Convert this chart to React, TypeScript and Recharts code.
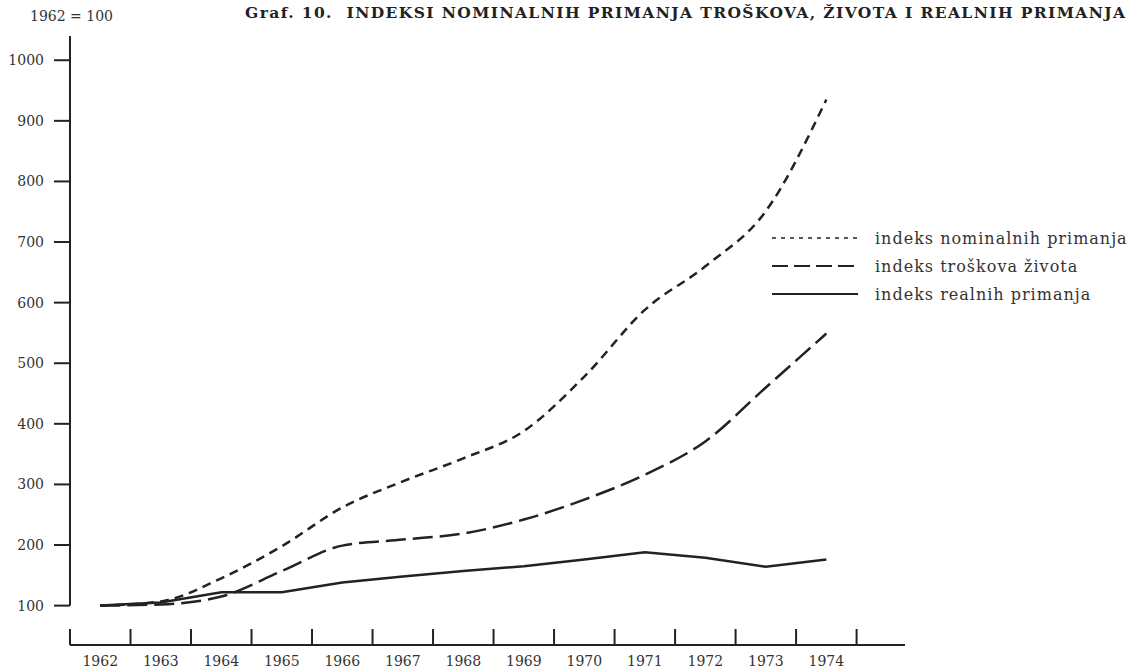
import { LineChart, Line, XAxis, YAxis, ReferenceLine, Legend } from 'recharts'

// index values, 1962 = 100
const years = [1962, 1963, 1964, 1965, 1966, 1967, 1968, 1969, 1970, 1971, 1972, 1973, 1974]
const nominalIncome = [100, 107, 145, 198, 262, 305, 343, 388, 478, 588, 660, 751, 935]
const costOfLiving = [100, 102, 115, 157, 199, 209, 219, 242, 275, 316, 371, 460, 549]
const realIncome = [100, 105, 122, 122, 138, 148, 157, 165, 176, 188, 179, 164, 176]

const yTicks = [100, 200, 300, 400, 500, 600, 700, 800, 900, 1000]
// tick marks sit between the years, labels sit on the years
const yearEdges = [...years.map((y) => y - 0.5), years[years.length - 1] + 0.5]
const xTicks = [...yearEdges, ...years].sort((a, b) => a - b)

const series = [
  { key: 'nominal', name: 'indeks nominalnih primanja', dash: '9 6', legendDash: '4 5', type: 'monotone' },
  { key: 'cost', name: 'indeks troškova života', dash: '20 7', legendDash: '16 6', type: 'monotone' },
  { key: 'real', name: 'indeks realnih primanja', dash: undefined, legendDash: undefined, type: 'linear' },
] as const

const data = years.map((year, i) => ({
  year,
  nominal: nominalIncome[i],
  cost: costOfLiving[i],
  real: realIncome[i],
}))

const ink = '#222'
const font = '"DejaVu Serif", "Liberation Serif", serif'

function XTick(props: any) {
  const { x, y, payload } = props
  if (Number.isInteger(payload.value)) {
    return (
      <text x={x} y={y + 21} textAnchor="middle" fontSize={14} fill="#333" fontFamily={font}>
        {payload.value}
      </text>
    )
  }
  return <line x1={x} x2={x} y1={y} y2={y - 16} stroke={ink} strokeWidth={2} />
}

function LegendBox() {
  return (
    <div style={{ fontFamily: font, fontSize: 16, color: '#333', letterSpacing: 1, whiteSpace: 'nowrap' }}>
      {series.map((s) => (
        <div key={s.key} style={{ display: 'flex', alignItems: 'center', height: 28 }}>
          <svg width={90} height={10} style={{ marginRight: 15, flex: 'none' }}>
            <line x1={2} x2={88} y1={5} y2={5} stroke={ink} strokeWidth={s.key === 'nominal' ? 1.5 : 2} strokeDasharray={s.legendDash} />
          </svg>
          <span>{s.name}</span>
        </div>
      ))}
    </div>
  )
}

export default function App() {
  return (
    <div style={{ position: 'absolute', left: 0, top: 0, width: 1128, height: 670, background: '#fff' }}>
      <div style={{ position: 'absolute', left: 30, top: 8, fontFamily: font, fontSize: 14, color: '#333', whiteSpace: 'pre' }}>
        {'1962 = 100'}
      </div>
      <div
        style={{
          position: 'absolute',
          left: 245,
          top: 3,
          fontFamily: font,
          fontSize: 15.5,
          fontWeight: 'bold',
          color: '#222',
          letterSpacing: 1.4,
          whiteSpace: 'pre',
        }}
      >
        {'Graf. 10.  INDEKSI NOMINALNIH PRIMANJA TROŠKOVA, ŽIVOTA I REALNIH PRIMANJA'}
      </div>
      <LineChart width={1128} height={670} data={data} margin={{ top: 36, right: 223, bottom: 0, left: 0 }}>
        <XAxis
          dataKey="year"
          type="number"
          domain={[1961.5, 1975.3]}
          ticks={xTicks}
          interval={0}
          tickSize={0}
          tickMargin={0}
          tickLine={false}
          axisLine={{ stroke: ink, strokeWidth: 2 }}
          height={25}
          tick={<XTick />}
        />
        <YAxis
          type="number"
          domain={[35, 1040]}
          ticks={yTicks}
          interval={0}
          width={70}
          tickSize={16}
          tickMargin={10}
          axisLine={false}
          tickLine={{ stroke: ink, strokeWidth: 2 }}
          tick={{ fontSize: 14, fill: '#333', fontFamily: font }}
        />
        <ReferenceLine
          segment={[
            { x: 1961.5, y: 100 },
            { x: 1961.5, y: 1040 },
          ]}
          stroke={ink}
          strokeWidth={2}
          ifOverflow="visible"
        />
        {series.map((s) => (
          <Line
            key={s.key}
            type={s.type}
            dataKey={s.key}
            name={s.name}
            stroke={ink}
            strokeWidth={2.5}
            strokeDasharray={s.dash}
            dot={false}
            activeDot={false}
            isAnimationActive={false}
          />
        ))}
        <Legend
          layout="horizontal"
          verticalAlign="middle"
          align="center"
          content={<LegendBox />}
          wrapperStyle={{ left: 770, top: 224, width: 358 }}
        />
      </LineChart>
    </div>
  )
}
